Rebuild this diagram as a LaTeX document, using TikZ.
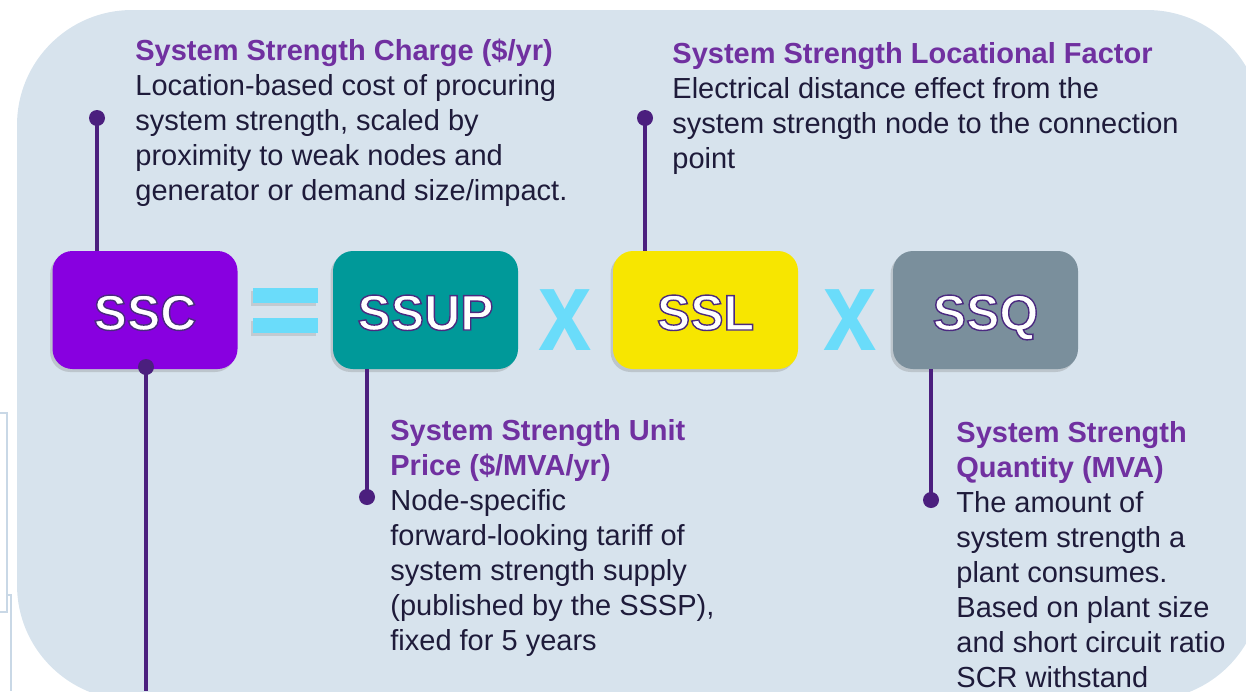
\documentclass[tikz,border=0pt]{standalone}
\usepackage{fontspec}
\setmainfont{Liberation Sans}
\usepackage{tikz}
\usetikzlibrary{shapes,arrows,positioning,shadows}
\definecolor{bgblue}{HTML}{D7E3ED}
\definecolor{framegrey}{HTML}{C9D8E6}
\definecolor{linepurple}{HTML}{4B1F7E}
\definecolor{headpurple}{HTML}{7030A0}
\definecolor{bodyblue}{HTML}{1E1B3A}
\definecolor{signcyan}{HTML}{6ADCFA}
\definecolor{sscpurple}{HTML}{8800E0}
\definecolor{ssupteal}{HTML}{009999}
\definecolor{sslyellow}{HTML}{F7E600}
\definecolor{ssqgrey}{HTML}{7A8F9C}
\tikzstyle{box} = [rectangle, rounded corners=10pt, minimum width=92.5pt, minimum height=59pt, inner sep=0pt, text height=20pt, text depth=0pt, font=\fontsize{25}{25}\bfseries, drop shadow={shadow xshift=-1.2pt, shadow yshift=-1.5pt, opacity=0.3}]
\tikzstyle{dot} = [circle, fill=linepurple, minimum size=8pt, inner sep=0pt]
\tikzstyle{line} = [draw=linepurple, line width=2.1pt]
\tikzstyle{times} = [text=signcyan, inner sep=0pt, font=\fontsize{48}{48}\bfseries]
\tikzstyle{info} = [anchor=north west, inner sep=0pt, align=left, text=bodyblue, font=\fontsize{14.5}{17.5}\selectfont]
\newcommand{\hd}[1]{\textcolor{headpurple}{\bfseries #1}}
% white letters with a purple outline (text render mode 2)
\newcommand{\boxtext}[1]{\textcolor{white}{\special{pdf:literal direct 0.294 0.165 0.502 RG 2 Tr 0.7 w}#1\special{pdf:literal direct 0 Tr}}}

\begin{document}
\begin{tikzpicture}[x=0.5pt, y=-0.5pt]
			\clip (0,0) rectangle (1246,691);
			\fill [bgblue, rounded corners=57.5pt] (17,10) rectangle (1262,700);
			% faint frame at the left edge
			\draw [framegrey, line width=0.7pt] (0,413) -- (7,413) -- (7,612) -- (0,612);
			\draw [framegrey, line width=0.7pt] (7,595) -- (11,595) -- (11,691);

			\node [box, fill=sscpurple] (ssc) at (145,310) {\boxtext{SSC}};
			\node [box, fill=ssupteal] (ssup) at (425.5,310) {\boxtext{SSUP}};
			\node [box, fill=sslyellow] (ssl) at (705.5,310) {\boxtext{SSL}};
			\node [box, fill=ssqgrey] (ssq) at (985.5,310) {\boxtext{SSQ}};

			\fill [signcyan, drop shadow={shadow xshift=-1pt, shadow yshift=-1.5pt, opacity=0.25}] (253,288) rectangle (318,303);
			\fill [signcyan, drop shadow={shadow xshift=-1pt, shadow yshift=-1.5pt, opacity=0.25}] (253,318) rectangle (318,333);
			\node [times] (x1) at (565,320) {\scalebox{1}[1.2]{x}};
			\node [times] (x2) at (850,320) {\scalebox{1}[1.2]{x}};

			\node [dot] (d1) at (97,118) {};
			\node [dot] (d2) at (146,367) {};
			\node [dot] (d3) at (645,118) {};
			\node [dot] (d4) at (367,497) {};
			\node [dot] (d5) at (931,500) {};
			\coordinate (e2) at (146,691);

			\path [line] (d1.center) -- (d1 |- ssc.north);
			\path [line] (d2.center) -- (e2);
			\path [line] (d3.center) -- (d3 |- ssl.north);
			\path [line] (d4 |- ssup.south) -- (d4.center);
			\path [line] (d5 |- ssq.south) -- (d5.center);

			\node [info] (charge) at (135,39) {\hd{System Strength Charge (\$/yr)}\\
				Location-based cost of procuring\\
				system strength, scaled by\\
				proximity to weak nodes and\\
				generator or demand size/impact.};
			\node [info] (factor) at (672,42) {\hd{System Strength Locational Factor}\\
				Electrical distance effect from the\\
				system strength node to the connection\\
				point};
			\node [info] (price) at (390,419) {\hd{System Strength Unit}\\
				\hd{Price (\$/MVA/yr)}\\
				Node-specific\\
				forward-looking tariff of\\
				system strength supply\\
				(published by the SSSP),\\
				fixed for 5 years};
			\node [info] (quantity) at (956,421) {\hd{System Strength}\\
				\hd{Quantity (MVA)}\\
				The amount of\\
				system strength a\\
				plant consumes.\\
				Based on plant size\\
				and short circuit ratio\\
				SCR withstand};
		\end{tikzpicture}
\end{document}
